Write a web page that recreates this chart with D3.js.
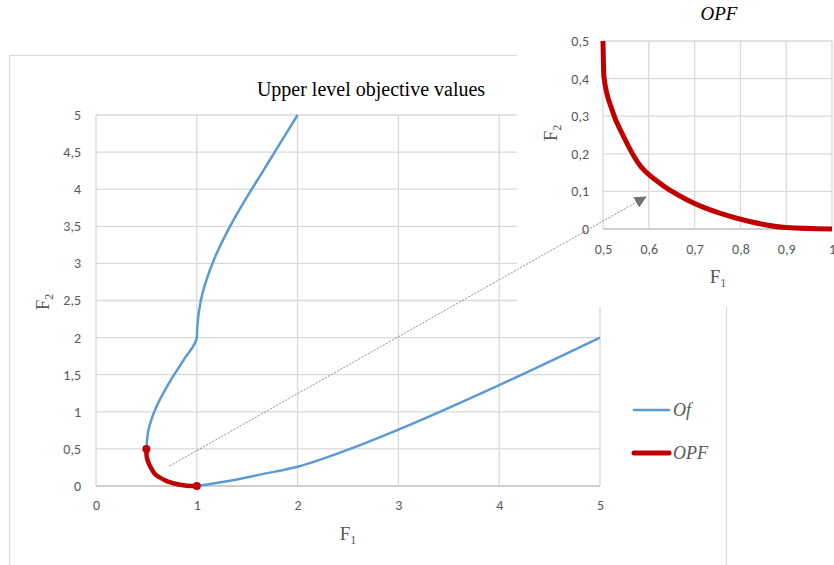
<!DOCTYPE html>
<html>
<head>
<meta charset="utf-8">
<script src="https://cdn.jsdelivr.net/npm/d3@7"></script>
<style>
    body { margin: 0; background: #fff; }
    svg { display: block; }
    .tick text { font-family: Calibri, Carlito, "Open Sans", sans-serif; fill: #595959; }
</style>
</head>
<body>
<div id="chart"></div>
<script>
// Of curve: upper branch (2,5) down to (0.5,0.5), lower branch (1,0) up to (5,2)
var ofUpperF1 = [2.0, 1.8, 1.66, 1.5, 1.33, 1.17, 1.08, 1.04, 1.005, 1.0, 0.87, 0.73, 0.6, 0.52, 0.5];
var ofUpperF2 = [5.0, 4.56, 4.25, 3.9, 3.5, 3.05, 2.71, 2.5, 2.15, 2.0, 1.7, 1.4, 1.07, 0.75, 0.5];
var ofLowerF1 = [1.0, 1.33, 1.65, 2.0, 2.52, 3.0, 4.0, 5.0];
var ofLowerF2 = [0.0, 0.07, 0.16, 0.26, 0.5, 0.76, 1.36, 2.0];

// OPF (optimal pareto front)
var opfF1 = [0.5, 0.502, 0.52, 0.545, 0.577, 0.625, 0.683, 0.755, 0.82, 0.9, 1.0];
var opfF2 = [0.5, 0.405, 0.316, 0.246, 0.175, 0.121, 0.078, 0.042, 0.02, 0.004, 0.0];

var mainXTicks = [0, 1, 2, 3, 4, 5];
var mainYTicks = [0, 0.5, 1, 1.5, 2, 2.5, 3, 3.5, 4, 4.5, 5];
var insetXTicks = [0.5, 0.6, 0.7, 0.8, 0.9, 1];
var insetYTicks = [0, 0.1, 0.2, 0.3, 0.4, 0.5];

var zip = function(a, b) { return a.map(function(v, i) { return [v, b[i]]; }); };
var ofUpper = zip(ofUpperF1, ofUpperF2);
var ofLower = zip(ofLowerF1, ofLowerF2);
var opfData = zip(opfF1, opfF2);

var comma = d3.formatLocale({ decimal: ",", thousands: " ", grouping: [3], currency: ["", ""] });
var fmt = function(d) { return comma.format("~g")(d); };

var svg = d3.select("#chart").append("svg").attr("width", 834).attr("height", 565);

var blue = "#5b9bd5", red = "#c00000", grid = "#d9d9d9";
var serif = "'Liberation Serif', 'Times New Roman', serif";

// label with subscript, e.g. F1 / F2
var subLabel = function(g, main, sub, transform) {
    var t = g.append("text").attr("transform", transform).attr("text-anchor", "middle")
        .attr("font-family", serif).attr("font-size", 19).attr("fill", "#595959");
    t.append("tspan").text(main);
    t.append("tspan").attr("font-size", 12).attr("dy", 4).text(sub);
    return t;
};

// outer chart frame
svg.append("rect")
    .attr("x", 9.5).attr("y", 55.5).attr("width", 717).attr("height", 530)
    .attr("fill", "#fff").attr("stroke", grid);

// ---- main chart ----
var x = d3.scaleLinear().domain([0, 5]).range([96, 600]);
var y = d3.scaleLinear().domain([0, 5]).range([486, 115]);

var main = svg.append("g");

main.append("g").selectAll("line").data(mainYTicks).join("line")
    .attr("x1", x(0)).attr("x2", x(5))
    .attr("y1", function(d) { return y(d); }).attr("y2", function(d) { return y(d); })
    .attr("stroke", function(d) { return d === 0 ? "#bfbfbf" : grid; }).attr("stroke-width", 1.3);
main.append("g").selectAll("line").data(mainXTicks).join("line")
    .attr("y1", y(0)).attr("y2", y(5))
    .attr("x1", function(d) { return x(d); }).attr("x2", function(d) { return x(d); })
    .attr("stroke", grid).attr("stroke-width", 1.3);

var xAxis = main.append("g").attr("transform", "translate(0," + y(0) + ")")
    .call(d3.axisBottom(x).tickValues(mainXTicks).tickFormat(fmt).tickSize(0).tickPadding(14));
var yAxis = main.append("g").attr("transform", "translate(" + x(0) + ",0)")
    .call(d3.axisLeft(y).tickValues(mainYTicks).tickFormat(fmt).tickSize(0).tickPadding(15));
[xAxis, yAxis].forEach(function(a) {
    a.select(".domain").remove();
    a.selectAll("text").attr("font-size", 14);
});

var lineY = d3.line().x(function(d) { return x(d[0]); }).y(function(d) { return y(d[1]); }).curve(d3.curveMonotoneY);
var lineX = d3.line().x(function(d) { return x(d[0]); }).y(function(d) { return y(d[1]); }).curve(d3.curveMonotoneX);

main.append("path").datum(ofUpper).attr("d", lineY)
    .attr("fill", "none").attr("stroke", blue).attr("stroke-width", 2.5);
main.append("path").datum(ofLower).attr("d", lineX)
    .attr("fill", "none").attr("stroke", blue).attr("stroke-width", 2.5);

main.append("path").datum(opfData).attr("d", lineX)
    .attr("fill", "none").attr("stroke", red).attr("stroke-width", 4.5).attr("stroke-linecap", "round");
main.selectAll("circle").data([opfData[0], opfData[opfData.length - 1]]).join("circle")
    .attr("cx", function(d) { return x(d[0]); }).attr("cy", function(d) { return y(d[1]); })
    .attr("r", 4).attr("fill", red);

main.append("text").attr("x", 371).attr("y", 96).attr("text-anchor", "middle")
    .attr("font-family", serif).attr("font-size", 20).attr("fill", "#000")
    .text("Upper level objective values");

subLabel(main, "F", "1", "translate(348,540)");
subLabel(main, "F", "2", "translate(49,302) rotate(-90)");

// legend
var legend = main.append("g");
var items = [{ name: "Of", color: blue, w: 2.5, y: 410 }, { name: "OPF", color: red, w: 5, y: 453 }];
items.forEach(function(it) {
    legend.append("line").attr("x1", 634).attr("x2", 669).attr("y1", it.y).attr("y2", it.y)
        .attr("stroke", it.color).attr("stroke-width", it.w).attr("stroke-linecap", "round");
    legend.append("text").attr("x", 673).attr("y", it.y + 6)
        .attr("font-family", serif).attr("font-style", "italic").attr("font-size", 18).attr("fill", "#595959")
        .text(it.name);
});

// ---- inset ----
var inX = d3.scaleLinear().domain([0.5, 1]).range([603, 832]);
var inY = d3.scaleLinear().domain([0, 0.5]).range([229, 41]);

var inset = svg.append("g");
inset.append("rect").attr("x", 517).attr("y", 0).attr("width", 317).attr("height", 307).attr("fill", "#fff");

inset.append("g").selectAll("line").data(insetYTicks).join("line")
    .attr("x1", inX(0.5)).attr("x2", inX(1))
    .attr("y1", function(d) { return inY(d); }).attr("y2", function(d) { return inY(d); })
    .attr("stroke", function(d) { return d === 0 ? "#bfbfbf" : grid; }).attr("stroke-width", 1.3);
inset.append("g").selectAll("line").data(insetXTicks).join("line")
    .attr("y1", inY(0)).attr("y2", inY(0.5))
    .attr("x1", function(d) { return inX(d); }).attr("x2", function(d) { return inX(d); })
    .attr("stroke", grid).attr("stroke-width", 1.3);

var ixAxis = inset.append("g").attr("transform", "translate(0," + inY(0) + ")")
    .call(d3.axisBottom(inX).tickValues(insetXTicks).tickFormat(fmt).tickSize(0).tickPadding(15));
var iyAxis = inset.append("g").attr("transform", "translate(" + inX(0.5) + ",0)")
    .call(d3.axisLeft(inY).tickValues(insetYTicks).tickFormat(fmt).tickSize(0).tickPadding(14));
[ixAxis, iyAxis].forEach(function(a) {
    a.select(".domain").remove();
    a.selectAll("text").attr("font-size", 14);
});

inset.append("path").datum(opfData)
    .attr("d", d3.line().x(function(d) { return inX(d[0]); }).y(function(d) { return inY(d[1]); }).curve(d3.curveMonotoneX))
    .attr("fill", "none").attr("stroke", red).attr("stroke-width", 5);

inset.append("text").attr("x", 719).attr("y", 20).attr("text-anchor", "middle")
    .attr("font-family", serif).attr("font-style", "italic").attr("font-size", 19).attr("fill", "#000")
    .text("OPF");

subLabel(inset, "F", "1", "translate(718,283)");
subLabel(inset, "F", "2", "translate(557,133) rotate(-90)");

// pointer arrow from main OPF region to inset
svg.append("defs").append("marker")
    .attr("id", "arrow").attr("viewBox", "0 0 10 10").attr("refX", 9).attr("refY", 5)
    .attr("markerWidth", 12).attr("markerHeight", 12).attr("markerUnits", "userSpaceOnUse").attr("orient", "auto")
    .append("path").attr("d", "M0,0L10,5L0,10Z").attr("fill", "#767171");
svg.append("line")
    .attr("x1", x(0.73)).attr("y1", y(0.27))
    .attr("x2", inX(0.593)).attr("y2", inY(0.085))
    .attr("stroke", "#8c8c8c").attr("stroke-width", 1).attr("stroke-dasharray", "2,1.5")
    .attr("marker-end", "url(#arrow)");
</script>
</body>
</html>
